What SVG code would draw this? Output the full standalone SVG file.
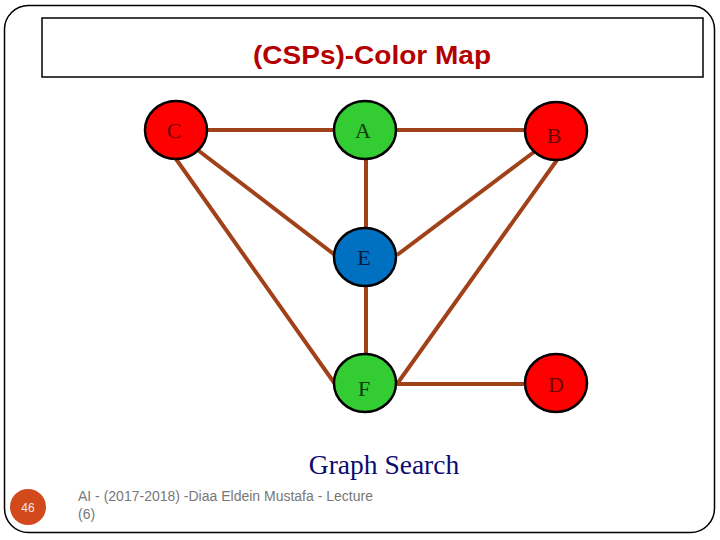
<svg xmlns="http://www.w3.org/2000/svg" width="720" height="540" viewBox="0 0 720 540">
<style>
.node{stroke:#000;stroke-width:2.5}
.lbl{font-family:"Liberation Serif",serif;font-size:22px;text-anchor:middle}
.edge{stroke:#A0411A;stroke-width:4;fill:none}
.foot{font-family:"Liberation Sans",Arial,sans-serif;font-size:14px;fill:#777}
</style>
<rect x="0" y="0" width="720" height="540" fill="#fff"/>
<rect x="4.5" y="5.5" width="710" height="527" rx="24" fill="none" stroke="#000" stroke-width="1.5"/>
<g id="title">
<rect x="42" y="18" width="661" height="59" fill="#fff" stroke="#000" stroke-width="1.5"/>
<text x="372" y="64" font-family="'Liberation Sans',Arial,sans-serif" font-weight="bold" font-size="25" fill="#B40000" text-anchor="middle" textLength="238" lengthAdjust="spacingAndGlyphs">(CSPs)-Color Map</text>
</g>
<g id="connectors">
<line class="edge" x1="207" y1="130" x2="334" y2="130"/>
<line class="edge" x1="397" y1="130" x2="525" y2="130"/>
<line class="edge" x1="366" y1="160" x2="366" y2="228"/>
<line class="edge" x1="199" y1="151" x2="335" y2="255"/>
<line class="edge" x1="534" y1="152" x2="397" y2="255"/>
<line class="edge" x1="176" y1="159" x2="335" y2="384"/>
<line class="edge" x1="557" y1="160" x2="397" y2="384"/>
<line class="edge" x1="366" y1="287" x2="366" y2="354"/>
<line class="edge" x1="397" y1="384" x2="525" y2="384"/>
</g>
<g id="node-C"><ellipse class="node" cx="176" cy="130" rx="31" ry="29" fill="#FF0000"/><text class="lbl" x="174" y="138" fill="#6B0000">C</text></g>
<g id="node-A"><ellipse class="node" cx="365" cy="130" rx="31" ry="29" fill="#33CC33"/><text class="lbl" x="363" y="138" fill="#0D3A0D">A</text></g>
<g id="node-B"><ellipse class="node" cx="556" cy="131" rx="31" ry="29" fill="#FF0000"/><text class="lbl" x="554" y="143" fill="#6B0000">B</text></g>
<g id="node-E"><ellipse class="node" cx="365" cy="257" rx="31" ry="29" fill="#0070C0"/><text class="lbl" x="364" y="265" fill="#0A1A3A">E</text></g>
<g id="node-F"><ellipse class="node" cx="365" cy="383" rx="31" ry="29" fill="#33CC33"/><text class="lbl" x="364" y="396" fill="#0D3A0D">F</text></g>
<g id="node-D"><ellipse class="node" cx="556" cy="383" rx="31" ry="29" fill="#FF0000"/><text class="lbl" x="556" y="392" fill="#6B0000">D</text></g>
<text x="384" y="474" font-family="'Liberation Serif',serif" font-size="27.5" fill="#0B0B70" text-anchor="middle">Graph Search</text>
<g id="footer">
<circle cx="28" cy="507" r="18" fill="#D2491C"/>
<text x="28" y="512" font-family="'Liberation Sans',Arial,sans-serif" font-size="12" fill="#F4E6E0" text-anchor="middle">46</text>
<text class="foot" x="78" y="501">AI - (2017-2018) -Diaa Eldein Mustafa - Lecture</text>
<text class="foot" x="78" y="519">(6)</text>
</g>
</svg>
